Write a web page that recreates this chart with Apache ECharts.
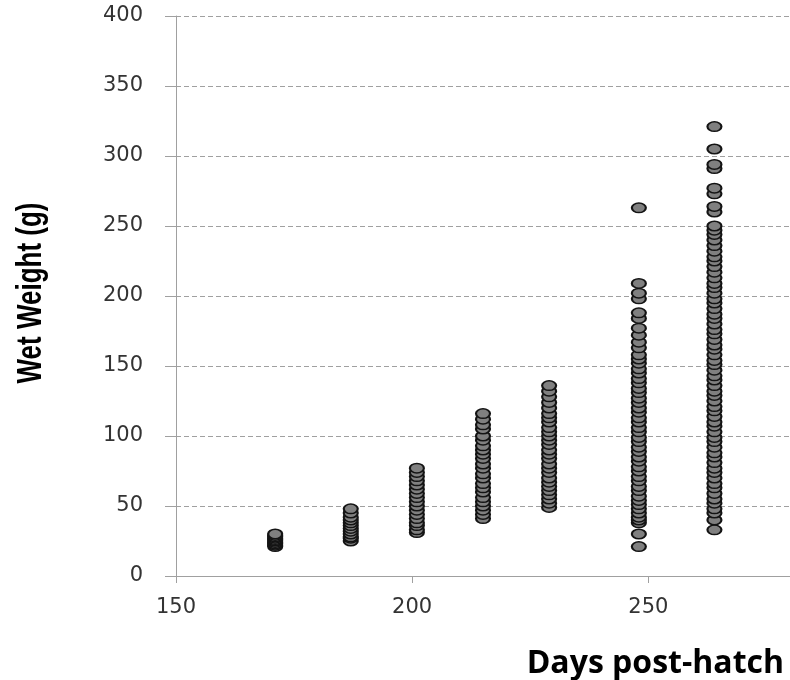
<!DOCTYPE html>
<html>
<head>
<meta charset="utf-8">
<script src="https://cdn.jsdelivr.net/npm/echarts@6/dist/echarts.min.js"></script>
<style>
  html, body { margin: 0; padding: 0; background: #ffffff; }
  #chart { width: 790px; height: 680px; }
</style>
</head>
<body>
<div id="chart"></div>
<script>
// Sampling days (days post-hatch)
const days = [171, 187, 201, 215, 229, 248, 264];

// Wet weights (g) of individual fish at each sampling day
const wt171 = [21, 22, 23, 24, 25, 26, 27, 28, 29, 30];
const wt187 = [25, 27, 28, 30, 32, 34, 36, 38, 40, 42, 45, 48];
const wt201 = [31, 33, 36, 38, 41, 44, 47, 50, 53, 56, 59, 62, 65, 68, 71, 74, 77];
const wt215 = [41, 44, 47, 50, 53, 56, 60, 63, 66, 70, 73, 77, 80, 84, 87, 90, 93, 97, 100, 105, 108, 112, 116];
const wt229 = [49, 52, 55, 58, 61, 64, 67, 70, 74, 77, 80, 84, 87, 90, 94, 97, 100, 103, 106, 110, 113, 116, 120, 124, 128, 132, 136];
const wt248 = [21, 30, 38, 40, 42, 45, 48, 51, 54, 57, 61, 64, 68, 71, 75, 78, 82, 85, 89, 92, 96, 99, 103, 106, 110,
               113, 117, 120, 124, 127, 131, 134, 138, 141, 145, 148, 152, 155, 158, 163, 167, 172, 177, 184, 188,
               198, 202, 209, 263];
const wt264 = [33, 40, 45, 48, 52, 55, 59, 63, 66, 70, 74, 77, 81, 85, 88, 92, 96, 99, 103, 107, 110, 114, 118, 121,
               125, 129, 132, 136, 140, 143, 147, 151, 154, 158, 162, 165, 169, 173, 176, 180, 184, 187, 191, 195,
               198, 202, 206, 209, 213, 217, 221, 225, 228, 232, 236, 240, 244, 247, 250, 260, 264, 273, 277, 291,
               294, 305, 321];

const weightsByDay = [wt171, wt187, wt201, wt215, wt229, wt248, wt264];

// Axis tick settings
const xTicks = { min: 150, max: 280, step: 50 };
const yTicks = { min: 0, max: 400, step: 50 };

// Axis titles
const xTitle = 'Days post-hatch';
const yTitle = 'Wet Weight (g)';

const points = [];
days.forEach(function (d, i) {
  weightsByDay[i].forEach(function (w) { points.push([d, w]); });
});

const axisGrey = '#a0a0a0';
const labelFont = { color: '#333333', fontFamily: 'DejaVu Sans', fontSize: 21 };

const chart = echarts.init(document.getElementById('chart'), null, { renderer: 'canvas' });
chart.setOption({
  animation: false,
  backgroundColor: '#ffffff',
  grid: { left: 176, top: 16, width: 618, height: 560, containLabel: false },
  xAxis: {
    type: 'value',
    min: xTicks.min,
    max: xTicks.max,
    interval: xTicks.step,
    axisLine: { show: true, lineStyle: { color: axisGrey, width: 1 } },
    axisTick: { show: true, inside: false, length: 7, lineStyle: { color: axisGrey } },
    axisLabel: Object.assign({ margin: 21, showMaxLabel: false, showMinLabel: true }, labelFont),
    splitLine: { show: false },
    name: xTitle,
    nameLocation: 'end',
    nameGap: -6,
    nameMoveOverlap: false,
    nameTextStyle: {
      fontFamily: 'Open Sans', fontWeight: 'bold', fontSize: 32, color: '#000000',
      align: 'right', verticalAlign: 'top', lineHeight: 32, padding: [72, 0, 0, 0]
    }
  },
  yAxis: {
    type: 'value',
    min: yTicks.min,
    max: yTicks.max,
    interval: yTicks.step,
    axisLine: { show: true, onZero: false, lineStyle: { color: axisGrey, width: 1 } },
    axisTick: { show: true, inside: false, length: 11, lineStyle: { color: axisGrey, width: 1 } },
    axisLabel: Object.assign({ margin: 33 }, labelFont),
    splitLine: { show: true, lineStyle: { color: axisGrey, width: 1, type: [5, 3] } }
  },
  // Vertical axis title: condensed bold lettering, set upright along the axis
  graphic: [{
    type: 'text',
    x: 31,
    y: 293,
    rotation: Math.PI / 2,
    scaleX: 1,
    scaleY: 1.35,
    style: {
      text: yTitle,
      fontFamily: 'Liberation Sans',
      fontWeight: 'bold',
      fontSize: 26,
      fill: '#000000',
      textAlign: 'center',
      textVerticalAlign: 'middle'
    }
  }],
  series: [{
    type: 'scatter',
    symbol: 'circle',
    symbolSize: [14, 9.5],
    itemStyle: { color: '#808080', borderColor: '#141414', borderWidth: 1.8, opacity: 1 },
    data: points
  }]
});
</script>
</body>
</html>
